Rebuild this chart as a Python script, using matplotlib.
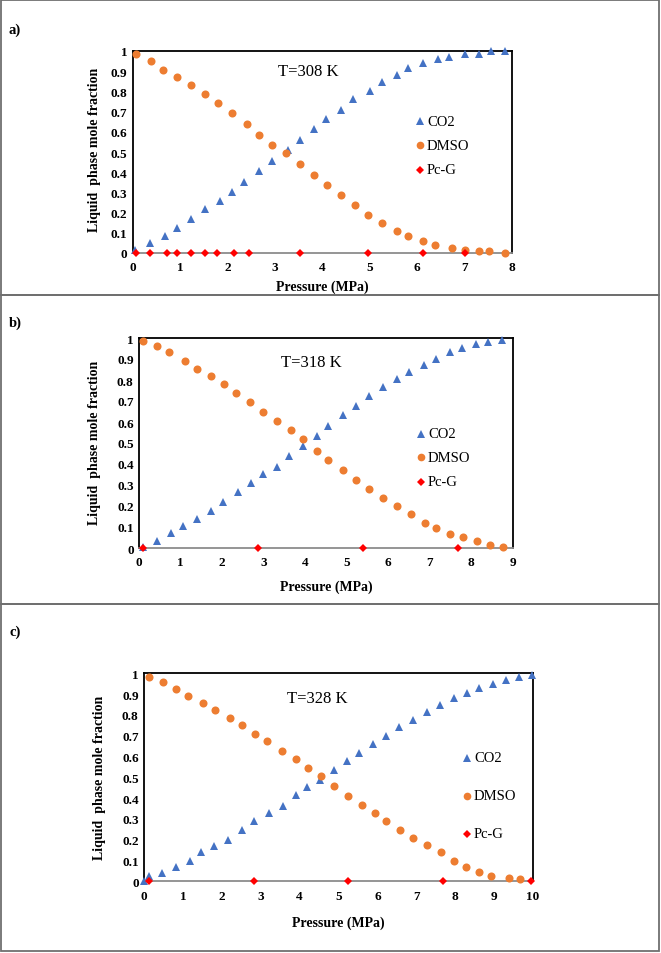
import matplotlib
matplotlib.use("Agg")
import matplotlib.pyplot as plt
from matplotlib.patches import Rectangle
from matplotlib.lines import Line2D

W, H = 661, 954
plt.rcParams['font.family'] = ['Liberation Serif', 'DejaVu Serif']

# ---------------- data ----------------
# Panel a) T=308 K
a_co2_x = [0.035, 0.35, 0.67, 0.92, 1.22, 1.53, 1.83, 2.09, 2.35, 2.66, 2.94, 3.27, 3.52, 3.83,
           4.07, 4.40, 4.65, 5.00, 5.26, 5.57, 5.81, 6.13, 6.43, 6.68, 7.00, 7.30, 7.55, 7.86]
a_co2_y = [0.013, 0.05, 0.085, 0.124, 0.168, 0.216, 0.257, 0.30, 0.35, 0.407, 0.455, 0.508, 0.558, 0.615,
           0.663, 0.71, 0.76, 0.80, 0.845, 0.88, 0.915, 0.94, 0.958, 0.972, 0.985, 0.985, 0.998, 0.998]
a_dmso_x = [0.06, 0.39, 0.63, 0.93, 1.22, 1.53, 1.80, 2.09, 2.40, 2.66, 2.94, 3.22, 3.52, 3.83,
            4.09, 4.40, 4.69, 4.95, 5.26, 5.57, 5.81, 6.12, 6.38, 6.74, 7.00, 7.30, 7.51, 7.86]
a_dmso_y = [0.983, 0.952, 0.908, 0.873, 0.83, 0.788, 0.745, 0.692, 0.64, 0.586, 0.536, 0.493, 0.442, 0.386,
            0.335, 0.285, 0.236, 0.19, 0.149, 0.11, 0.086, 0.059, 0.041, 0.026, 0.016, 0.01, 0.008, 0.0]
a_pcg_x = [0.06, 0.35, 0.72, 0.92, 1.23, 1.53, 1.78, 2.14, 2.45, 3.52, 4.95, 6.13, 7.0]
a_pcg_y = [0.0] * len(a_pcg_x)

# Panel b) T=318 K
b_co2_x = [0.10, 0.43, 0.76, 1.06, 1.38, 1.74, 2.01, 2.37, 2.69, 2.97, 3.32, 3.62, 3.94, 4.28,
           4.56, 4.90, 5.23, 5.53, 5.87, 6.21, 6.49, 6.86, 7.15, 7.48, 7.78, 8.11, 8.40, 8.75]
b_co2_y = [0.003, 0.035, 0.07, 0.103, 0.138, 0.178, 0.221, 0.267, 0.308, 0.353, 0.388, 0.437, 0.485, 0.534,
           0.579, 0.631, 0.676, 0.722, 0.766, 0.803, 0.838, 0.87, 0.901, 0.933, 0.952, 0.971, 0.981, 0.989]
b_dmso_x = [0.08, 0.42, 0.71, 1.09, 1.38, 1.73, 2.03, 2.33, 2.67, 2.97, 3.31, 3.65, 3.94, 4.28,
            4.56, 4.90, 5.23, 5.53, 5.87, 6.21, 6.55, 6.89, 7.15, 7.49, 7.80, 8.13, 8.46, 8.76]
b_dmso_y = [0.987, 0.962, 0.933, 0.892, 0.852, 0.819, 0.782, 0.739, 0.693, 0.649, 0.604, 0.561, 0.517, 0.463,
            0.417, 0.372, 0.326, 0.283, 0.238, 0.202, 0.161, 0.121, 0.095, 0.068, 0.051, 0.032, 0.016, 0.005]
b_pcg_x = [0.10, 2.85, 5.39, 7.68]
b_pcg_y = [0.0] * len(b_pcg_x)

# Panel c) T=328 K
c_co2_x = [0.0, 0.13, 0.46, 0.81, 1.18, 1.46, 1.80, 2.16, 2.51, 2.83, 3.21, 3.56, 3.91, 4.18, 4.52, 4.88,
           5.23, 5.54, 5.88, 6.22, 6.57, 6.91, 7.27, 7.61, 7.97, 8.30, 8.61, 8.97, 9.31, 9.66, 9.98]
c_co2_y = [0.0, 0.024, 0.038, 0.071, 0.099, 0.139, 0.171, 0.197, 0.247, 0.288, 0.33, 0.364, 0.413, 0.455, 0.486, 0.534,
           0.577, 0.617, 0.662, 0.699, 0.742, 0.777, 0.816, 0.848, 0.880, 0.907, 0.931, 0.950, 0.966, 0.981, 0.992]
c_dmso_x = [0.13, 0.49, 0.81, 1.12, 1.50, 1.82, 2.21, 2.51, 2.85, 3.17, 3.55, 3.90, 4.21, 4.54, 4.88,
            5.24, 5.60, 5.94, 6.22, 6.58, 6.93, 7.27, 7.63, 7.97, 8.27, 8.61, 8.93, 9.38, 9.67]
c_dmso_y = [0.984, 0.958, 0.925, 0.889, 0.857, 0.825, 0.784, 0.752, 0.708, 0.676, 0.628, 0.588, 0.543, 0.506, 0.46,
            0.412, 0.369, 0.33, 0.29, 0.247, 0.208, 0.176, 0.141, 0.099, 0.067, 0.043, 0.027, 0.018, 0.011]
c_pcg_x = [0.13, 2.83, 5.25, 7.70, 9.96]
c_pcg_y = [0.0] * len(c_pcg_x)

panel_labels = ["a)", "b)", "c)"]
temps = ["T=308 K", "T=318 K", "T=328 K"]
series_names = ["CO2", "DMSO", "Pc-G"]
xmax_list = [8, 9, 10]
y_ticks = [0, 0.1, 0.2, 0.3, 0.4, 0.5, 0.6, 0.7, 0.8, 0.9, 1]
y_ticklabels = ["0", "0.1", "0.2", "0.3", "0.4", "0.5", "0.6", "0.7", "0.8", "0.9", "1"]

# ---------------- layout (pixels) ----------------
panels = [
    dict(box=(1, 296), ax=(133, 512, 52, 254), lbl=(15, 30), temp=(3.70, 0.90),
         leg=(420, [122, 146, 171]), xl=(322, 287), yl=(95, 150),
         data=[(a_co2_x, a_co2_y), (a_dmso_x, a_dmso_y), (a_pcg_x, a_pcg_y)]),
    dict(box=(296, 605), ax=(139.3, 512.7, 339, 549), lbl=(15, 323), temp=(4.15, 0.885),
         leg=(421, [435, 458, 483]), xl=(326, 587), yl=(95, 443),
         data=[(b_co2_x, b_co2_y), (b_dmso_x, b_dmso_y), (b_pcg_x, b_pcg_y)]),
    dict(box=(605, 952), ax=(144.3, 532.7, 674.3, 882.3), lbl=(15, 632), temp=(4.45, 0.88),
         leg=(467, [759, 797, 835]), xl=(338, 923), yl=(100, 778),
         data=[(c_co2_x, c_co2_y), (c_dmso_x, c_dmso_y), (c_pcg_x, c_pcg_y)]),
]

colors = ["#4472C4", "#ED7D31", "#FF0000"]
markers = ["^", "o", "D"]
msizes = [5.4, 5.8, 3.8]

fig = plt.figure(figsize=(W / 100, H / 100), dpi=100)

def fx(px):
    return px / W

def fy(py):
    return 1 - py / H

for i, p in enumerate(panels):
    # panel frame
    y0, y1 = p["box"]
    fig.patches.append(Rectangle((fx(0.8), fy(y1)), fx(W - 2.4), (y1 - y0) / H,
                                 transform=fig.transFigure, fill=False,
                                 edgecolor="#6f6f6f", linewidth=1.3))
    l, r, t, b = p["ax"]
    ax = fig.add_axes([fx(l), fy(b), fx(r - l), (b - t) / H])
    for (xs, ys), c, m, ms in zip(p["data"], colors, markers, msizes):
        ax.plot(xs, ys, linestyle="none", marker=m, color=c, markersize=ms,
                markeredgewidth=0, clip_on=False, zorder=3)
    ax.set_xlim(0, xmax_list[i])
    ax.set_ylim(0, 1)
    ax.set_xticks(range(0, xmax_list[i] + 1))
    ax.set_xticklabels([str(v) for v in range(0, xmax_list[i] + 1)])
    ax.set_yticks(y_ticks)
    ax.set_yticklabels(y_ticklabels)
    ax.tick_params(length=0, labelsize=9.5, pad=4)
    ax.tick_params(axis="x", pad=6)
    for lab in ax.get_xticklabels() + ax.get_yticklabels():
        lab.set_fontweight("bold")
    for s in ["left", "top", "right"]:
        ax.spines[s].set_color("black")
        ax.spines[s].set_linewidth(1.3)
    ax.spines["bottom"].set_color("#8c8c8c")
    ax.spines["bottom"].set_linewidth(1.3)
    ax.text(p["temp"][0], p["temp"][1], temps[i], fontsize=12, ha="center", va="center")

    # legend drawn at fixed pixel positions
    lx, lys = p["leg"]
    for name, c, m, ms, ly in zip(series_names, colors, markers, msizes, lys):
        fig.lines.append(Line2D([fx(lx)], [fy(ly)], transform=fig.transFigure,
                                linestyle="none", marker=m, color=c,
                                markersize=ms * 0.95, markeredgewidth=0))
        fig.text(fx(lx + 7), fy(ly), name, fontsize=10.5, ha="left", va="center")

    fig.text(fx(p["xl"][0]), fy(p["xl"][1]), "Pressure (MPa)", fontsize=10,
             fontweight="bold", ha="center", va="center")
    fig.text(fx(p["yl"][0]), fy(p["yl"][1]), "Liquid  phase mole fraction", fontsize=10,
             fontweight="bold", ha="center", va="center", rotation=90)
    fig.text(fx(p["lbl"][0]), fy(p["lbl"][1]), panel_labels[i], fontsize=10.5,
             fontweight="bold", ha="center", va="center")

fig.savefig("out.png", dpi=100)
